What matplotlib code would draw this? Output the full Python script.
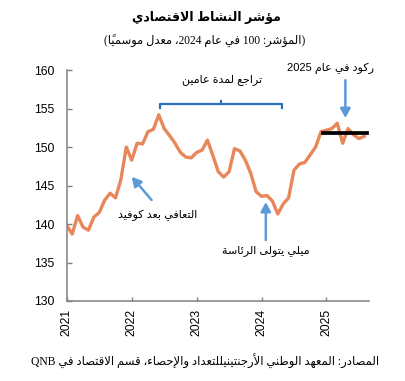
import matplotlib
matplotlib.use("Agg")
import matplotlib.pyplot as plt
import numpy as np

# --- data: monthly index, Jan 2021 .. Aug 2025 ---
start_year = 2021
values = [
    139.8, 138.7, 141.1, 139.6, 139.2, 140.9, 141.5, 143.1, 144.0, 143.4, 145.8, 150.0,  # 2021
    148.3, 150.5, 150.4, 152.0, 152.3, 154.2, 152.4, 151.5, 150.5, 149.3, 148.7, 148.6,  # 2022
    149.3, 149.6, 150.9, 148.9, 146.8, 146.1, 146.8, 149.8, 149.5, 148.3, 146.6, 144.2,  # 2023
    143.6, 143.7, 143.0, 141.3, 142.6, 143.4, 147.0, 147.8, 148.0, 149.0, 150.0, 152.0,  # 2024
    152.2, 152.4, 153.1, 150.5, 152.4, 151.6, 151.1, 151.4,                              # 2025
]
tick_years = [2021, 2022, 2023, 2024, 2025]
y_ticks = [130, 135, 140, 145, 150, 155, 160]
stagnation_level = 151.8

title = "مؤشر النشاط الاقتصادي"
subtitle = "(المؤشر: 100 في عام 2024، معدل موسمياً)"
source = "المصادر: المعهد الوطني الأرجنتينيللتعداد والإحصاء، قسم الاقتصاد في QNB"
lbl_decline = "تراجع لمدة عامين"
lbl_recession = "ركود في عام 2025"
lbl_covid = "التعافي بعد كوفيد"
lbl_milei = "ميلي يتولى الرئاسة"

# --- small arabic shaper (matplotlib has no shaping / bidi) ---
FORMS = {
    '\u0621': (0xFE80, None, None, None),
    '\u0622': (0xFE81, 0xFE82, None, None),
    '\u0623': (0xFE83, 0xFE84, None, None),
    '\u0624': (0xFE85, 0xFE86, None, None),
    '\u0625': (0xFE87, 0xFE88, None, None),
    '\u0626': (0xFE89, 0xFE8A, 0xFE8B, 0xFE8C),
    '\u0627': (0xFE8D, 0xFE8E, None, None),
    '\u0628': (0xFE8F, 0xFE90, 0xFE91, 0xFE92),
    '\u0629': (0xFE93, 0xFE94, None, None),
    '\u062A': (0xFE95, 0xFE96, 0xFE97, 0xFE98),
    '\u062B': (0xFE99, 0xFE9A, 0xFE9B, 0xFE9C),
    '\u062C': (0xFE9D, 0xFE9E, 0xFE9F, 0xFEA0),
    '\u062D': (0xFEA1, 0xFEA2, 0xFEA3, 0xFEA4),
    '\u062E': (0xFEA5, 0xFEA6, 0xFEA7, 0xFEA8),
    '\u062F': (0xFEA9, 0xFEAA, None, None),
    '\u0630': (0xFEAB, 0xFEAC, None, None),
    '\u0631': (0xFEAD, 0xFEAE, None, None),
    '\u0632': (0xFEAF, 0xFEB0, None, None),
    '\u0633': (0xFEB1, 0xFEB2, 0xFEB3, 0xFEB4),
    '\u0634': (0xFEB5, 0xFEB6, 0xFEB7, 0xFEB8),
    '\u0635': (0xFEB9, 0xFEBA, 0xFEBB, 0xFEBC),
    '\u0636': (0xFEBD, 0xFEBE, 0xFEBF, 0xFEC0),
    '\u0637': (0xFEC1, 0xFEC2, 0xFEC3, 0xFEC4),
    '\u0638': (0xFEC5, 0xFEC6, 0xFEC7, 0xFEC8),
    '\u0639': (0xFEC9, 0xFECA, 0xFECB, 0xFECC),
    '\u063A': (0xFECD, 0xFECE, 0xFECF, 0xFED0),
    '\u0641': (0xFED1, 0xFED2, 0xFED3, 0xFED4),
    '\u0642': (0xFED5, 0xFED6, 0xFED7, 0xFED8),
    '\u0643': (0xFED9, 0xFEDA, 0xFEDB, 0xFEDC),
    '\u0644': (0xFEDD, 0xFEDE, 0xFEDF, 0xFEE0),
    '\u0645': (0xFEE1, 0xFEE2, 0xFEE3, 0xFEE4),
    '\u0646': (0xFEE5, 0xFEE6, 0xFEE7, 0xFEE8),
    '\u0647': (0xFEE9, 0xFEEA, 0xFEEB, 0xFEEC),
    '\u0648': (0xFEED, 0xFEEE, None, None),
    '\u0649': (0xFEEF, 0xFEF0, None, None),
    '\u064A': (0xFEF1, 0xFEF2, 0xFEF3, 0xFEF4),
}
LAMALEF = {'\u0622': (0xFEF5, 0xFEF6), '\u0623': (0xFEF7, 0xFEF8),
           '\u0625': (0xFEF9, 0xFEFA), '\u0627': (0xFEFB, 0xFEFC)}
MIRROR = {'(': ')', ')': '('}


def is_mark(c):
    return '\u064B' <= c <= '\u0652'


def shape(s):
    out = []
    n = len(s)
    i = 0
    while i < n:
        c = s[i]
        if c not in FORMS:
            out.append(c)
            i += 1
            continue
        j = i - 1
        while j >= 0 and is_mark(s[j]):
            j -= 1
        p = s[j] if j >= 0 else None
        prev_conn = p in FORMS and FORMS[p][2] is not None and FORMS[c][1] is not None
        k = i + 1
        while k < n and is_mark(s[k]):
            k += 1
        nx = s[k] if k < n else None
        if c == '\u0644' and nx in LAMALEF:
            lig = LAMALEF[nx]
            out.append(chr(lig[1] if prev_conn else lig[0]))
            i = k + 1
            continue
        next_conn = FORMS[c][2] is not None and nx in FORMS and FORMS[nx][1] is not None
        iso, fin, ini, med = FORMS[c]
        if prev_conn and next_conn:
            g = med
        elif prev_conn:
            g = fin
        elif next_conn:
            g = ini
        else:
            g = iso
        out.append(chr(g))
        i += 1
    return ''.join(out)


def ar(s):
    s = shape(s)
    segs = []
    i = 0
    while i < len(s):
        c = s[i]
        if c.isascii() and c.isalnum():
            j = i
            while j < len(s) and s[j].isascii() and s[j].isalnum():
                j += 1
            segs.append(s[i:j])
            i = j
        else:
            j = i + 1
            while j < len(s) and is_mark(s[j]):
                j += 1
            segs.append(MIRROR.get(c, c) + s[i + 1:j])
            i = j
    return ''.join(reversed(segs))


sans = ['Liberation Sans', 'DejaVu Sans']
serif = ['Liberation Serif', 'DejaVu Sans']
orange = '#E8875A'
blue = '#5B9BD5'
dark_blue = '#2A70BE'

x = start_year + np.arange(len(values)) / 12

fig = plt.figure(figsize=(4.05, 3.81), dpi=100)
ax = fig.add_axes([0.165, 0.21, 0.746, 0.606])
ax.plot(x, values, color=orange, lw=2.4, solid_joinstyle='round')
ax.plot([x[47] + 0.03, x[-1] + 0.04], [stagnation_level, stagnation_level], color='black', lw=2.7)

ax.set_xlim(start_year, 2025.655)
ax.set_ylim(130, 160)
ax.set_yticks(y_ticks)
ax.set_xticks(tick_years)
ax.set_xticklabels([str(t) for t in tick_years], rotation=90, family=sans, fontsize=8.8)
ax.set_yticklabels([str(t) for t in y_ticks], family=sans, fontsize=8.8)
ax.tick_params(axis='y', direction='in', length=3.6, width=1, color='#808080', pad=9)
ax.tick_params(axis='x', direction='in', length=3, width=1, color='#808080', pad=6)
for side in ['top', 'right']:
    ax.spines[side].set_visible(False)
for side in ['left', 'bottom']:
    ax.spines[side].set_color('#808080')
    ax.spines[side].set_linewidth(1.1)

# bracket for the two-year decline
bx0, bx1, by = 2022.435, 2024.308, 155.55
ax.plot([bx0, bx0, bx1, bx1], [155.06, by, by, 155.1], color=dark_blue, lw=1.6)
ax.plot([2023.369, 2023.369], [by, 155.97], color=dark_blue, lw=1.6)
ax.text(2023.39, 158.83, ar(lbl_decline), ha='center', va='center', fontsize=8, family=sans)

arrow = dict(arrowstyle='-|>,head_length=0.55,head_width=0.3', color=blue, lw=1.8, shrinkA=0, shrinkB=0)
ax.annotate('', xy=(2025.292, 153.77), xytext=(2025.292, 158.7), arrowprops=arrow, annotation_clip=False)
ax.text(2025.066, 160.26, ar(lbl_recession), ha='center', va='center', fontsize=8, family=sans, clip_on=False)

ax.annotate('', xy=(2022.0, 146.14), xytext=(2022.306, 143.12), arrowprops=arrow)
ax.text(2022.405, 141.17, ar(lbl_covid), ha='center', va='center', fontsize=8, family=sans)

ax.annotate('', xy=(2024.066, 142.86), xytext=(2024.066, 137.92), arrowprops=arrow)
ax.text(2024.066, 136.5, ar(lbl_milei), ha='center', va='center', fontsize=8, family=sans)

fig.text(0.51, 0.955, ar(title), ha='center', va='center', fontsize=9, fontweight='bold', family=sans)
fig.text(0.505, 0.892, ar(subtitle), ha='center', va='center', fontsize=8.3, family=serif)
fig.text(0.506, 0.052, ar(source), ha='center', va='center', fontsize=8.4, family=serif)

fig.savefig('out.png', dpi=100)
